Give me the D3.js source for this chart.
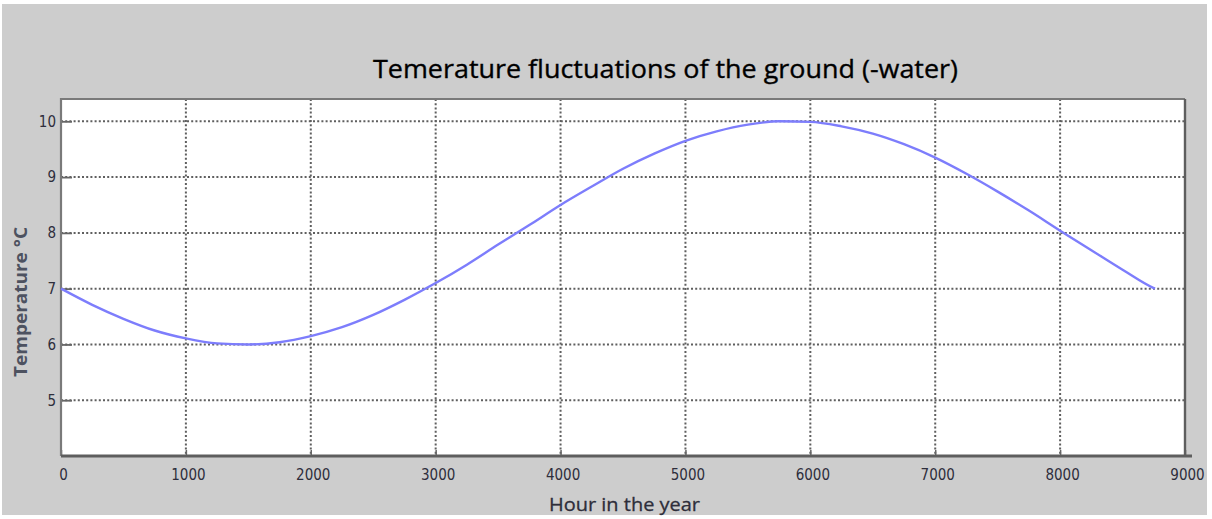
<!DOCTYPE html>
<html>
<head>
<meta charset="utf-8">
<script src="https://cdn.jsdelivr.net/npm/d3@7"></script>
<style>
  html, body { margin: 0; padding: 0; background: #ffffff; }
  svg { display: block; }
</style>
</head>
<body>
<svg id="chart" width="1212" height="519"></svg>
<script>
// Hour of the year and ground(-water) temperature in °C
const hours = [0, 250, 500, 750, 1000, 1250, 1500, 1750, 2000, 2250, 2500, 2750,
  3000, 3250, 3500, 3750, 4000, 4250, 4500, 4750, 5000, 5250, 5500, 5750,
  6000, 6250, 6500, 6750, 7000, 7250, 7500, 7750, 8000, 8250, 8500, 8750, 8760];
const temperatures = [7.00, 6.71, 6.46, 6.25, 6.11, 6.02, 6.00, 6.04, 6.15, 6.31, 6.53, 6.80,
  7.10, 7.43, 7.79, 8.14, 8.50, 8.83, 9.15, 9.42, 9.65, 9.82, 9.94, 10.00,
  9.99, 9.91, 9.78, 9.59, 9.35, 9.06, 8.74, 8.40, 8.04, 7.69, 7.34, 7.01, 7.00];

const xTicks = [0, 1000, 2000, 3000, 4000, 5000, 6000, 7000, 8000, 9000];
const yTicks = [5, 6, 7, 8, 9, 10];

const titleText = "Temerature fluctuations of the ground (-water)";
const xLabel = "Hour in the year";
const yLabel = "Temperature °C";

const svg = d3.select("#chart");
const W = 1212, H = 519;
const plot = { left: 61, right: 1185, top: 99, bottom: 456 };

// grey window background
svg.append("rect").attr("x", 2).attr("y", 4).attr("width", W - 7).attr("height", H - 8)
  .attr("fill", "#cdcdcd");

const x = d3.scaleLinear().domain([0, 9000]).range([plot.left, plot.right]);
const y = d3.scaleLinear().domain([4, 10.4]).range([plot.bottom, plot.top]);

// plot area
svg.append("rect")
  .attr("x", plot.left).attr("y", plot.top)
  .attr("width", plot.right - plot.left).attr("height", plot.bottom - plot.top)
  .attr("fill", "#ffffff");

// dotted grid
const grid = svg.append("g").attr("stroke", "#5f5f5f").attr("stroke-width", 2)
  .attr("stroke-dasharray", "2,2.2");
grid.selectAll("line.v").data(xTicks.filter(d => d > 0 && d < 9000)).join("line")
  .attr("class", "v")
  .attr("x1", d => x(d)).attr("x2", d => x(d))
  .attr("y1", plot.top).attr("y2", plot.bottom);
grid.selectAll("line.h").data(yTicks).join("line")
  .attr("class", "h")
  .attr("x1", plot.left).attr("x2", plot.right)
  .attr("y1", d => y(d)).attr("y2", d => y(d));

// axes with inward ticks
const tickFont = "'Liberation Sans Narrow', 'DejaVu Sans Condensed', sans-serif";
const xAxis = svg.append("g").attr("transform", `translate(0,${plot.bottom})`)
  .call(d3.axisBottom(x).tickValues(xTicks).tickSize(-6).tickPadding(13).tickFormat(d3.format("d")));
xAxis.select(".domain").remove();
xAxis.selectAll(".tick line").attr("stroke", "#666").attr("stroke-width", 1.5);
xAxis.selectAll(".tick text").attr("font-family", tickFont).attr("font-size", 15)
  .attr("font-stretch", "condensed")
  .attr("fill", "#2e2e3c").attr("dx", 2);

const yAxis = svg.append("g").attr("transform", `translate(${plot.left},0)`)
  .call(d3.axisLeft(y).tickValues(yTicks).tickSize(-11).tickPadding(5).tickFormat(d3.format("d")));
yAxis.select(".domain").remove();
yAxis.selectAll(".tick line").attr("stroke", "#666").attr("stroke-width", 1.8);
yAxis.selectAll(".tick text").attr("font-family", tickFont).attr("font-size", 15)
  .attr("font-stretch", "condensed")
  .attr("fill", "#2e2e3c");

// frame
const frame = svg.append("g").attr("fill", "none");
frame.append("path")
  .attr("d", `M${plot.left},${plot.bottom} V${plot.top} H${plot.right}`)
  .attr("stroke", "#7a7a7a").attr("stroke-width", 2.2);
frame.append("path")
  .attr("d", `M${plot.right},${plot.top} V${plot.bottom}`)
  .attr("stroke", "#5e5e5e").attr("stroke-width", 2.4);
frame.append("path")
  .attr("d", `M${plot.left},${plot.bottom} H${plot.right + 7}`)
  .attr("stroke", "#5e5e5e").attr("stroke-width", 2.8);

// temperature curve
const line = d3.line().x((d, i) => x(hours[i])).y(d => y(d)).curve(d3.curveMonotoneX);
svg.append("path").datum(temperatures)
  .attr("d", line)
  .attr("fill", "none")
  .attr("stroke", "#7d7dfc")
  .attr("stroke-width", 2.4);

// title and axis labels
const labelFont = "'Open Sans', 'Noto Sans', sans-serif";
svg.append("text").text(titleText)
  .attr("x", 373).attr("y", 78)
  .attr("font-family", labelFont).attr("font-size", 26)
  .attr("textLength", 585).attr("lengthAdjust", "spacingAndGlyphs")
  .attr("fill", "#000")
  .attr("stroke", "#000").attr("stroke-width", 0.35);

svg.append("text").text(xLabel)
  .attr("x", 549).attr("y", 511)
  .attr("font-family", labelFont).attr("font-size", 19)
  .attr("textLength", 151).attr("lengthAdjust", "spacingAndGlyphs")
  .attr("fill", "#2e2e3a")
  .attr("stroke", "#2e2e3a").attr("stroke-width", 0.3);

svg.append("text").text(yLabel)
  .attr("transform", "translate(27,377) rotate(-90)")
  .attr("font-family", labelFont).attr("font-size", 17).attr("font-weight", "bold")
  .attr("textLength", 150).attr("lengthAdjust", "spacingAndGlyphs")
  .attr("fill", "#4d5260");
</script>
</body>
</html>
